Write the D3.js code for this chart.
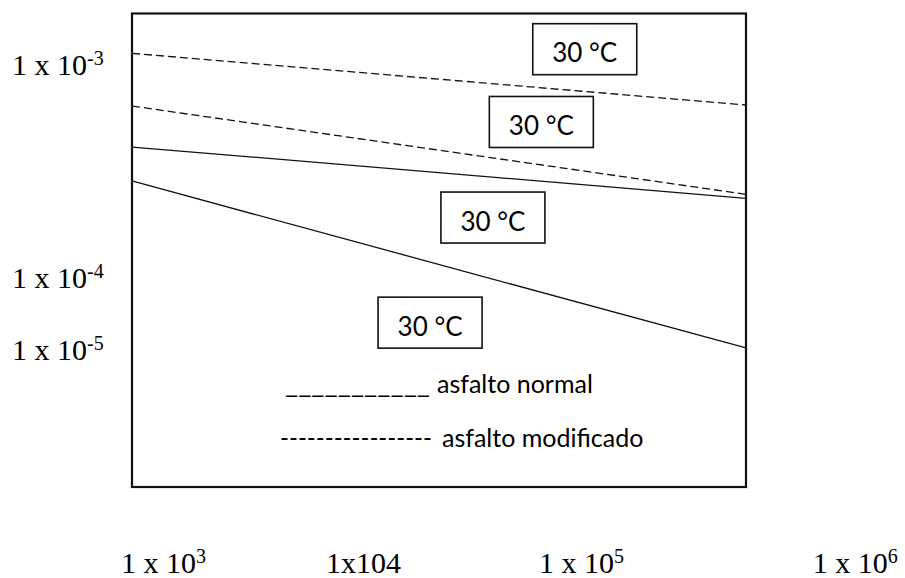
<!DOCTYPE html>
<html>
<head>
<meta charset="utf-8">
<script src="https://cdn.jsdelivr.net/npm/d3@7"></script>
<style>
  body { margin: 0; background: #fff; }
</style>
</head>
<body>
<div id="chart"></div>
<script>
var chart = {
  width: 905,
  height: 578,
  top: 13.5,
  right: 159,
  bottom: 91,
  left: 132,
}

// load cycles at both ends of every line
var cycles = [1e3, 1e6];

// strain values
var normalUpper = [4.135e-4, 2.376e-4];
var normalLower = [2.865e-4, 4.715e-5];
var modifiedUpper = [1.138e-3, 6.51e-4];
var modifiedLower = [6.44e-4, 2.48e-4];

// temperature tags
var tagText = ["30 °C", "30 °C", "30 °C", "30 °C"];
var tagCycles = [1.63e5, 1.0e5, 5.8e4, 2.86e4];
var tagStrain = [1.19e-3, 5.42e-4, 1.93e-4, 6.2e-5];

// tick labels (base + superscript) and where they sit on each axis
var xTickBase = ["1 x 10", "1x104", "1 x 10", "1 x 10"];
var xTickExp = ["3", "", "5", "6"];
var xTickAt = [884, 8.87e3, 9.74e4, 2.12e6];
var yTickBase = ["1 x 10", "1 x 10", "1 x 10"];
var yTickExp = ["-3", "-4", "-5"];
var yTickAt = [1e-3, 1e-4, 4.6e-5];

// legend: line sample drawn as text, then the name
var legendMark = ["___________", "-----------------"];
var legendName = ["asfalto normal", "asfalto modificado"];

function drawChart() {
  let svg = d3.select("#chart")
    .append("svg")
    .attr("width", chart.width)
    .attr("height", chart.height);

  let x = d3.scaleLog()
    .domain([1e3, 1e6])
    .range([chart.left, chart.width - chart.right]);

  let y = d3.scaleLog()
    .domain([1.75e-3, 1.05e-5])
    .range([chart.top, chart.height - chart.bottom]);

  /* frame */
  svg.append("rect")
    .attr("x", chart.left)
    .attr("y", chart.top)
    .attr("width", chart.width - chart.right - chart.left)
    .attr("height", chart.height - chart.bottom - chart.top)
    .style("fill", "none")
    .style("stroke", "#111")
    .style("stroke-width", 2.2);

  /* lines */
  let series = [
    { values: modifiedUpper, dashed: true },
    { values: modifiedLower, dashed: true },
    { values: normalUpper, dashed: false },
    { values: normalLower, dashed: false },
  ];
  let line = d3.line()
    .x((d, i) => x(cycles[i]))
    .y((d) => y(d));

  svg.append("g")
    .selectAll("path")
    .data(series)
    .enter()
    .append("path")
    .attr("d", (d) => line(d.values))
    .style("fill", "none")
    .style("stroke", "#111")
    .style("stroke-width", 1.3)
    .style("stroke-dasharray", (d) => d.dashed ? "8,4" : null);

  /* temperature tags */
  let tags = svg.append("g")
    .selectAll("g")
    .data(tagText)
    .enter()
    .append("g")
    .attr("transform", (d, i) => `translate(${x(tagCycles[i])}, ${y(tagStrain[i])})`);

  tags.append("rect")
    .attr("x", -52)
    .attr("y", -25.5)
    .attr("width", 104)
    .attr("height", 51)
    .style("fill", "white")
    .style("stroke", "#111")
    .style("stroke-width", 1.6);

  tags.append("text")
    .attr("text-anchor", "middle")
    .attr("y", 13)
    .style("font-family", "Lato, sans-serif")
    .style("font-size", "26px")
    .text((d) => d);

  /* y tick labels */
  let yTicks = svg.append("g")
    .selectAll("text")
    .data(yTickBase)
    .enter()
    .append("text")
    .attr("x", 12)
    .attr("y", (d, i) => y(yTickAt[i]) + 10)
    .style("font-family", "'Liberation Serif', 'Times New Roman', serif")
    .style("font-size", "30px");
  yTicks.append("tspan").text((d) => d);
  yTicks.append("tspan")
    .attr("dy", -10)
    .style("font-size", "20px")
    .text((d, i) => yTickExp[i]);

  /* x tick labels */
  let xTicks = svg.append("g")
    .selectAll("text")
    .data(xTickBase)
    .enter()
    .append("text")
    .attr("x", (d, i) => x(xTickAt[i]))
    .attr("y", 573)
    .style("font-family", "'Liberation Serif', 'Times New Roman', serif")
    .style("font-size", "30px");
  xTicks.append("tspan").text((d) => d);
  xTicks.append("tspan")
    .attr("dy", -10)
    .style("font-size", "20px")
    .text((d, i) => xTickExp[i]);

  /* legend */
  let legend = svg.append("g")
    .selectAll("g")
    .data(legendName)
    .enter()
    .append("g")
    .attr("transform", (d, i) => `translate(0, ${393 + i * 54})`);

  legend.append("text")
    .attr("x", (d, i) => i === 0 ? 285 : 280)
    .attr("textLength", (d, i) => i === 0 ? 145 : 152)
    .attr("lengthAdjust", "spacingAndGlyphs")
    .style("font-family", "Lato, sans-serif")
    .style("font-size", "25px")
    .text((d, i) => legendMark[i]);

  legend.append("text")
    .attr("x", (d, i) => i === 0 ? 437 : 442)
    .style("font-family", "Lato, sans-serif")
    .style("font-size", "25px")
    .text((d) => d);
}

drawChart();
</script>
</body>
</html>
